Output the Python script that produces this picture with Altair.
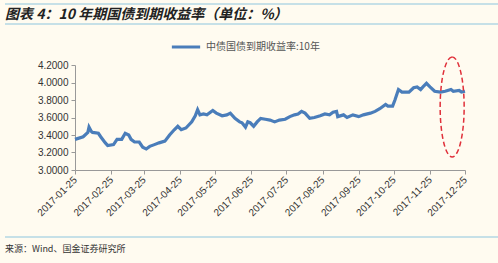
import altair as alt
import pandas as pd

dates = [
    "2017-01-25", "2017-02-01", "2017-02-05", "2017-02-06", "2017-02-08", "2017-02-09",
    "2017-02-14", "2017-02-16", "2017-02-20", "2017-02-22", "2017-02-27", "2017-03-02",
    "2017-03-06", "2017-03-09", "2017-03-12", "2017-03-14", "2017-03-17", "2017-03-21",
    "2017-03-24", "2017-03-27", "2017-03-30", "2017-04-03", "2017-04-07", "2017-04-12",
    "2017-04-16", "2017-04-20", "2017-04-23", "2017-04-26", "2017-04-30", "2017-05-05",
    "2017-05-08", "2017-05-10", "2017-05-12", "2017-05-15", "2017-05-18", "2017-05-23",
    "2017-05-26", "2017-05-31", "2017-06-04", "2017-06-07", "2017-06-11", "2017-06-15",
    "2017-06-17", "2017-06-20", "2017-06-22", "2017-06-24", "2017-06-27", "2017-06-30",
    "2017-07-03", "2017-07-07", "2017-07-11", "2017-07-15", "2017-07-19", "2017-07-24",
    "2017-07-28", "2017-08-01", "2017-08-04", "2017-08-07", "2017-08-10", "2017-08-14",
    "2017-08-18", "2017-08-23", "2017-08-27", "2017-08-31", "2017-09-03", "2017-09-06",
    "2017-09-07", "2017-09-12", "2017-09-15", "2017-09-20", "2017-09-25", "2017-09-29",
    "2017-10-05", "2017-10-09", "2017-10-13", "2017-10-18", "2017-10-20", "2017-10-24",
    "2017-10-26", "2017-10-29", "2017-11-01", "2017-11-07", "2017-11-11", "2017-11-14",
    "2017-11-17", "2017-11-19", "2017-11-22", "2017-11-25", "2017-11-29", "2017-12-04",
    "2017-12-08", "2017-12-13", "2017-12-15", "2017-12-20", "2017-12-22", "2017-12-25",
]
yields = [
    3.35, 3.38, 3.43, 3.49, 3.44, 3.43,
    3.42, 3.38, 3.31, 3.28, 3.29, 3.35,
    3.35, 3.42, 3.40, 3.35, 3.32, 3.32,
    3.26, 3.24, 3.27, 3.29, 3.31, 3.33,
    3.40, 3.46, 3.50, 3.46, 3.48, 3.55,
    3.62, 3.69, 3.63, 3.64, 3.63, 3.68,
    3.65, 3.62, 3.63, 3.65, 3.59, 3.55,
    3.54, 3.49, 3.55, 3.54, 3.50, 3.55,
    3.59, 3.58, 3.57, 3.55, 3.57, 3.58,
    3.61, 3.63, 3.64, 3.67, 3.65, 3.59,
    3.60, 3.62, 3.64, 3.63, 3.66, 3.67,
    3.61, 3.63, 3.60, 3.63, 3.61, 3.63,
    3.65, 3.67, 3.70, 3.75, 3.73, 3.73,
    3.80, 3.92, 3.89, 3.89, 3.94, 3.95,
    3.92, 3.95, 3.99, 3.95, 3.90, 3.89,
    3.90, 3.92, 3.90, 3.91, 3.89, 3.90,
]
series_name = "中债国债到期收益率:10年"
y_ticks = [3.0, 3.2, 3.4, 3.6, 3.8, 4.0, 4.2]
tick_months = list(range(1, 13))

# annotation ellipse (centre in data space)
ellipse_date = ["2017-12-14"]
ellipse_value = [3.72]

title_text = "图表 4：10 年期国债到期收益率（单位：%）"
source_text = "来源：Wind、国金证券研究所"

df = pd.DataFrame({"date": pd.to_datetime(dates), "value": yields, "series": series_name})
ell = pd.DataFrame({"date": pd.to_datetime(ellipse_date), "value": ellipse_value})

FONT = "Noto Sans CJK SC"
NUM_FONT = "Liberation Sans"

x_scale = alt.Scale(domain=[alt.DateTime(year=2017, month=1, date=25),
                            alt.DateTime(year=2017, month=12, date=25)])
y_scale = alt.Scale(domain=[3.0, 4.2], nice=False, zero=False)

x_axis = alt.Axis(
    values=[alt.DateTime(year=2017, month=m, date=25) for m in tick_months],
    format="%Y-%m-%d", labelAngle=-45, labelAlign="right", labelBaseline="middle",
    labelFontSize=10, labelColor="#333333", labelFont=NUM_FONT, labelPadding=4,
    grid=False, domainColor="#999999", tickColor="#999999", tickSize=4, title=None,
    labelOverlap=False, labelFlush=False,
)
y_axis = alt.Axis(
    values=y_ticks, format=".4f", grid=False, domainColor="#999999", tickColor="#999999",
    tickSize=4, labelFontSize=10, labelColor="#333333", labelFont=NUM_FONT, labelPadding=3,
    title=None, labelOverlap=False, labelFlush=False,
)

line = alt.Chart(df).mark_line(strokeWidth=3.2, clip=False).encode(
    x=alt.X("date:T", scale=x_scale, axis=x_axis),
    y=alt.Y("value:Q", scale=y_scale, axis=y_axis),
    color=alt.Color(
        "series:N",
        scale=alt.Scale(range=["#4A7DBA"]),
        legend=alt.Legend(
            title=None, orient="none", legendX=95, legendY=-34,
            symbolType="stroke", symbolSize=800, symbolStrokeWidth=3,
            labelFontSize=10, labelColor="#555555", labelFont=FONT,
        ),
    ),
)

ellipse = alt.Chart(ell).mark_point(
    shape="M0,-1A0.24,1 0 1,1 0,1A0.24,1 0 1,1 0,-1Z",
    size=10000, filled=False, stroke="#E0303A", strokeWidth=1.5,
    strokeDash=[5, 3], opacity=1,
).encode(
    x=alt.X("date:T", scale=x_scale, axis=x_axis),
    y=alt.Y("value:Q", scale=y_scale, axis=y_axis),
)

rule_src = pd.DataFrame({"k": [0]})
rules = alt.Chart(rule_src).mark_rule(color="#8EC5DE", strokeWidth=1.2).encode(
    x=alt.value(-70), x2=alt.value(423), y=alt.value(-61)
)
rules2 = alt.Chart(rule_src).mark_rule(color="#8EC5DE", strokeWidth=1.2).encode(
    x=alt.value(-70), x2=alt.value(423), y=alt.value(-41)
)
rules3 = alt.Chart(rule_src).mark_rule(color="#8EC5DE", strokeWidth=1.2).encode(
    x=alt.value(-70), x2=alt.value(423), y=alt.value(172)
)
title_mark = alt.Chart(rule_src).mark_text(
    text=title_text, align="left", baseline="alphabetic", font=FONT,
    fontSize=14, fontWeight="bold", fontStyle="italic", color="#222222",
).encode(x=alt.value(-70), y=alt.value(-46))
source_mark = alt.Chart(rule_src).mark_text(
    text=source_text, align="left", baseline="alphabetic", font=FONT,
    fontSize=9, color="#333333",
).encode(x=alt.value(-70), y=alt.value(187))

chart = alt.layer(line, ellipse, rules, rules2, rules3, title_mark, source_mark).properties(
    width=390, height=105,
    autosize=alt.AutoSizeParams(type="none"),
    padding={"left": 75, "top": 65, "right": 33, "bottom": 93},
    background="#FFFBF0",
).configure_view(stroke=None)

chart.save("out.html", embed_options={"renderer": "svg", "actions": False})
